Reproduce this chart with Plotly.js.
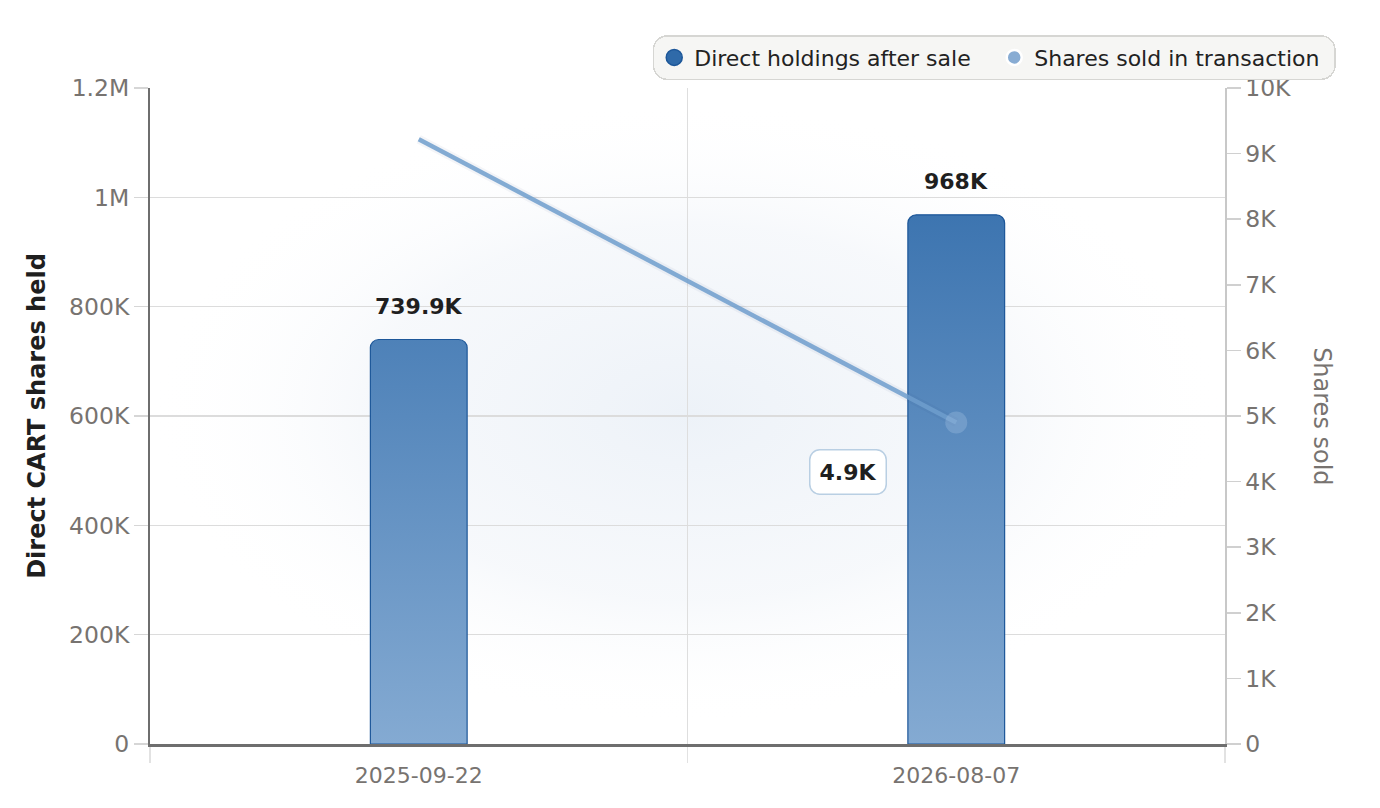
<!DOCTYPE html>
<html>
<head>
<meta charset="utf-8">
<script src="https://cdn.plot.ly/plotly-3.0.1.min.js"></script>
<style>
  html, body { margin: 0; padding: 0; background: #fff; }
  #myDiv { width: 1380px; height: 808px; }
</style>
</head>
<body>
<div id="myDiv"></div>
<script>
// data
var dates = ['2025-09-22', '2026-08-07'];
var holdings = [739900, 968000];
var holdingLabels = ['739.9K', '968K'];
var sharesSold = [9220, 4900];
var soldLabel = '4.9K';

var leftTickVals = [0, 200000, 400000, 600000, 800000, 1000000, 1200000];
var leftTickText = ['0', '200K', '400K', '600K', '800K', '1M', '1.2M'];
var rightTickVals = [0, 1000, 2000, 3000, 4000, 5000, 6000, 7000, 8000, 9000, 10000];
var rightTickText = ['0', '1K', '2K', '3K', '4K', '5K', '6K', '7K', '8K', '9K', '10K'];

var FONT = 'DejaVu Sans, Verdana, sans-serif';

var bgSvg = 'data:image/svg+xml;utf8,' + encodeURIComponent(
  '<svg xmlns="http://www.w3.org/2000/svg" width="100" height="100" preserveAspectRatio="none">' +
  '<defs><radialGradient id="g" cx="50%" cy="50%" r="50%">' +
  '<stop offset="0" stop-color="#edf2f8" stop-opacity="1"/>' +
  '<stop offset="0.6" stop-color="#f3f6fa" stop-opacity="0.7"/>' +
  '<stop offset="1" stop-color="#ffffff" stop-opacity="0"/></radialGradient></defs>' +
  '<rect width="100" height="100" fill="url(#g)"/></svg>');

var data = [
  {
    type: 'bar', x: dates, y: holdings, width: 0.18,
    marker: {color: '#5b8cc2', line: {color: '#1d5799', width: 1.2}, cornerradius: 9},
    showlegend: false, hoverinfo: 'x+y'
  },
  // soft shadow under the line
  {
    type: 'scatter', mode: 'lines', x: dates, y: sharesSold, yaxis: 'y2',
    line: {color: 'rgba(30,60,110,0.05)', width: 9},
    showlegend: false, hoverinfo: 'skip'
  },
  {
    type: 'scatter', mode: 'lines+markers', x: dates, y: sharesSold, yaxis: 'y2',
    line: {color: 'rgba(110,157,205,0.85)', width: 4.5},
    marker: {size: [0, 22], color: 'rgba(170,198,230,0.45)', line: {width: 0}},
    showlegend: false
  },
  // legend entries
  {
    type: 'scatter', mode: 'markers', x: [null], y: [null], name: 'Direct holdings after sale',
    marker: {size: 16, color: '#2f6aa9', line: {color: '#1d5799', width: 1.5}}
  },
  {
    type: 'scatter', mode: 'markers', x: [null], y: [null], name: 'Shares sold in transaction',
    marker: {size: 15, color: '#88acd3', line: {color: '#ffffff', width: 2.5}}
  }
];

var annotations = dates.map(function (d, i) {
  return {
    x: d, y: holdings[i], xref: 'x', yref: 'y', yanchor: 'bottom',
    yshift: 19, showarrow: false, text: '<b>' + holdingLabels[i] + '</b>',
    font: {family: FONT, size: 22, color: '#1f1f1f'}
  };
});
annotations.push({
  x: dates[1], y: sharesSold[1], xref: 'x', yref: 'y2',
  xshift: -108, yshift: -49, showarrow: false,
  text: '<b>' + soldLabel + '</b>',
  font: {family: FONT, size: 22, color: '#1f1f1f'},
  bgcolor: '#ffffff', bordercolor: '#b9cfe3', borderwidth: 1.5, borderpad: 9
});
annotations.push({
  x: 1.105, y: 0.5, xref: 'paper', yref: 'paper', showarrow: false,
  textangle: 90, text: 'Shares sold',
  font: {family: FONT, size: 24, color: '#777370'}
});

var layout = {
  width: 1380, height: 808,
  margin: {l: 150, r: 155, t: 88, b: 64},
  paper_bgcolor: '#ffffff', plot_bgcolor: 'rgba(0,0,0,0)',
  font: {family: FONT, color: '#777370'},
  bargap: 0,
  showlegend: true,
  legend: {
    orientation: 'h', x: 1.103, xanchor: 'right', y: 1.012, yanchor: 'bottom',
    entrywidth: 295, entrywidthmode: 'pixels',
    bgcolor: '#f6f6f4', bordercolor: '#d6d6d3', borderwidth: 1.5,
    font: {family: FONT, size: 22, color: '#222222'}
  },
  xaxis: {
    type: 'category', range: [-0.5, 1.5], tickson: 'boundaries',
    showgrid: true, gridcolor: '#dedede', gridwidth: 1,
    ticks: 'outside', ticklen: 16, tickcolor: '#e2e2e2', tickwidth: 1.5,
    ticklabelstandoff: 10,
    showline: true, linecolor: '#6e6e6e', linewidth: 2.5,
    tickfont: {family: FONT, size: 22, color: '#777370'},
    fixedrange: true
  },
  yaxis: {
    range: [0, 1200000], tickvals: leftTickVals, ticktext: leftTickText,
    showgrid: true, gridcolor: '#dcdcdc', gridwidth: 1.2, zeroline: false,
    ticks: 'outside', ticklen: 14, tickcolor: '#d6d6d6', tickwidth: 1.5,
    showline: true, linecolor: '#6e6e6e', linewidth: 2,
    tickfont: {family: FONT, size: 23.5, color: '#777370'},
    title: {text: '<b>Direct CART shares held</b>', standoff: 17,
            font: {family: FONT, size: 24, color: '#1f1f1f'}},
    fixedrange: true
  },
  yaxis2: {
    overlaying: 'y', side: 'right',
    range: [0, 10000], tickvals: rightTickVals, ticktext: rightTickText,
    showgrid: false, zeroline: false,
    ticks: 'outside', ticklen: 14, tickcolor: '#d0d0d0', tickwidth: 1.5,
    showline: true, linecolor: '#c8c8c8', linewidth: 1.5,
    tickfont: {family: FONT, size: 23.5, color: '#777370'},
    fixedrange: true
  },
  annotations: annotations,
  images: [{
    source: bgSvg, xref: 'paper', yref: 'paper', x: 0.0, y: 0.98,
    sizex: 1.0, sizey: 0.95, sizing: 'stretch', xanchor: 'left', yanchor: 'top',
    layer: 'below', opacity: 1
  }]
};

Plotly.newPlot('myDiv', data, layout, {displayModeBar: false, staticPlot: true}).then(function (gd) {
  var svgNS = 'http://www.w3.org/2000/svg';
  var defs = gd.querySelector('.main-svg defs');
  var grad = document.createElementNS(svgNS, 'linearGradient');
  grad.setAttribute('id', 'barGrad');
  grad.setAttribute('gradientUnits', 'userSpaceOnUse');
  grad.setAttribute('x1', '0'); grad.setAttribute('x2', '0');
  grad.setAttribute('y1', '0'); grad.setAttribute('y2', String(gd._fullLayout._size.h));
  [['0', '#2c68a8'], ['1', '#84aad2']].forEach(function (s) {
    var st = document.createElementNS(svgNS, 'stop');
    st.setAttribute('offset', s[0]);
    st.setAttribute('stop-color', s[1]);
    grad.appendChild(st);
  });
  defs.appendChild(grad);
  gd.querySelectorAll('.barlayer .point path').forEach(function (p) {
    p.style.fill = 'url(#barGrad)';
  });
  // rounded boxes
  gd.querySelectorAll('.legend rect.bg').forEach(function (r) {
    r.setAttribute('rx', 14); r.setAttribute('ry', 14);
  });
  gd.querySelectorAll('.annotation rect.bg').forEach(function (r) {
    r.setAttribute('rx', 10); r.setAttribute('ry', 10);
  });
});
</script>
</body>
</html>
